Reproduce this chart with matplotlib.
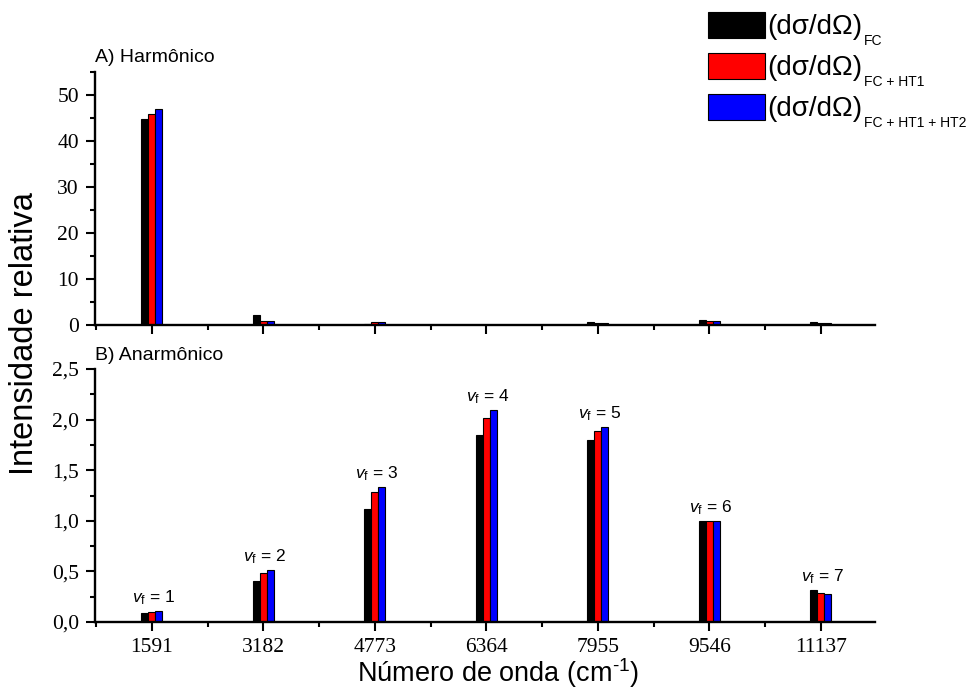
import numpy as np
import matplotlib
matplotlib.use("Agg")
import matplotlib.pyplot as plt
from matplotlib.ticker import MultipleLocator, FuncFormatter
from matplotlib.patches import Patch

plt.rcParams["font.family"] = ["Liberation Sans", "DejaVu Sans"]
plt.rcParams["mathtext.fontset"] = "custom"
plt.rcParams["mathtext.rm"] = "Liberation Sans"
plt.rcParams["mathtext.it"] = "Liberation Sans:italic"

# ---------------------------
# Data
# ---------------------------
wavenumbers = [1591, 3182, 4773, 6364, 7955, 9546, 11137]
vf_labels = [1, 2, 3, 4, 5, 6, 7]

# A) harmonic
harm_fc = [44.8, 2.1, 0.2, 0.0, 0.6, 1.1, 0.72]
harm_ht1 = [45.9, 0.9, 0.6, 0.0, 0.4, 0.9, 0.4]
harm_ht2 = [47.0, 0.85, 0.6, 0.0, 0.45, 0.9, 0.45]

# B) anharmonic
anh_fc = [0.086, 0.41, 1.12, 1.845, 1.80, 1.0, 0.313]
anh_ht1 = [0.10, 0.48, 1.28, 2.02, 1.89, 1.0, 0.287]
anh_ht2 = [0.11, 0.51, 1.33, 2.09, 1.93, 1.0, 0.277]

series_labels = ["FC", "FC + HT1", "FC + HT1 + HT2"]
colors = ["#000000", "#ff0000", "#0000ff"]

BAR_W = 100.0
SERIF = "Liberation Serif"


def style_axis(ax, ymax, ymajor, yminor, yfmt):
    for side in ("top", "right"):
        ax.spines[side].set_visible(False)
    for side in ("left", "bottom"):
        ax.spines[side].set_linewidth(1.7)
    ax.set_xlim(778, 11908)
    ax.set_ylim(0, ymax)
    ax.xaxis.set_major_locator(MultipleLocator(1591))
    ax.xaxis.set_minor_locator(MultipleLocator(795.5))
    ax.yaxis.set_major_locator(MultipleLocator(ymajor))
    ax.yaxis.set_minor_locator(MultipleLocator(yminor))
    ax.yaxis.set_major_formatter(FuncFormatter(yfmt))
    ax.tick_params(which="major", direction="out", length=6.5, width=1.5, pad=5)
    ax.tick_params(which="minor", direction="out", length=3.5, width=1.5)


def draw_bars(ax, groups):
    x = np.array(wavenumbers, dtype=float)
    for k, (vals, col) in enumerate(zip(groups, colors)):
        ax.bar(x + (k - 1) * BAR_W, vals, width=BAR_W, color=col,
               edgecolor="black", linewidth=0.8, zorder=2)


fig = plt.figure(figsize=(9.76, 6.94), dpi=100)
ax1 = fig.add_axes([0.0973, 0.5317, 0.7992, 0.3646])
ax2 = fig.add_axes([0.0973, 0.1037, 0.7992, 0.3646])

draw_bars(ax1, [harm_fc, harm_ht1, harm_ht2])
draw_bars(ax2, [anh_fc, anh_ht1, anh_ht2])

style_axis(ax1, 55, 10, 5, lambda v, p: f"{v:.0f}")
style_axis(ax2, 2.5, 0.5, 0.25, lambda v, p: f"{v:.1f}".replace(".", ","))
ax1.set_xticklabels([])
for lab in ax2.get_xticklabels() + ax2.get_yticklabels() + ax1.get_yticklabels():
    lab.set_fontfamily(SERIF)
    lab.set_fontsize(15.5)

ax1.text(0.0, 1.025, "A) Harmônico", transform=ax1.transAxes,
         ha="left", va="bottom", fontsize=14)
ax2.text(0.0, 1.02, "B) Anarmônico", transform=ax2.transAxes,
         ha="left", va="bottom", fontsize=14)

# v_f labels above each group
for w, n, a, b, c in zip(wavenumbers, vf_labels, anh_fc, anh_ht1, anh_ht2):
    ax2.annotate(r"$\mathit{v}_{\mathregular{f}}$ = " + str(n),
                 xy=(w, max(a, b, c)), xytext=(1, 3), textcoords="offset points",
                 ha="center", va="bottom", fontsize=12.5)

fig.text(0.025, 0.52, "Intensidade relativa", rotation=90,
         ha="center", va="center", fontsize=23.5)
fig.text(0.51, 0.017, r"Número de onda (cm$^{\text{-1}}$)",
         ha="center", va="baseline", fontsize=19.5)

# legend (main text + smaller subscripts)
handles = [Patch(facecolor=c, edgecolor="black", linewidth=0.8) for c in colors]
leg = fig.legend(handles, ["(dσ/dΩ)"] * 3, loc="upper left",
                 bbox_to_anchor=(0.7197, 0.991), frameon=False, fontsize=20,
                 handlelength=2.05, handleheight=1.05, handletextpad=0.1,
                 labelspacing=0.46, borderpad=0.2, borderaxespad=0)
fig.canvas.draw()
for txt, sub in zip(leg.get_texts(), series_labels):
    ax1.annotate(sub, xy=(1, 0), xycoords=txt, xytext=(0.5, -3.5),
                 textcoords="offset points", ha="left", va="baseline",
                 fontsize=10, annotation_clip=False)

fig.savefig("out.png", dpi=100)
